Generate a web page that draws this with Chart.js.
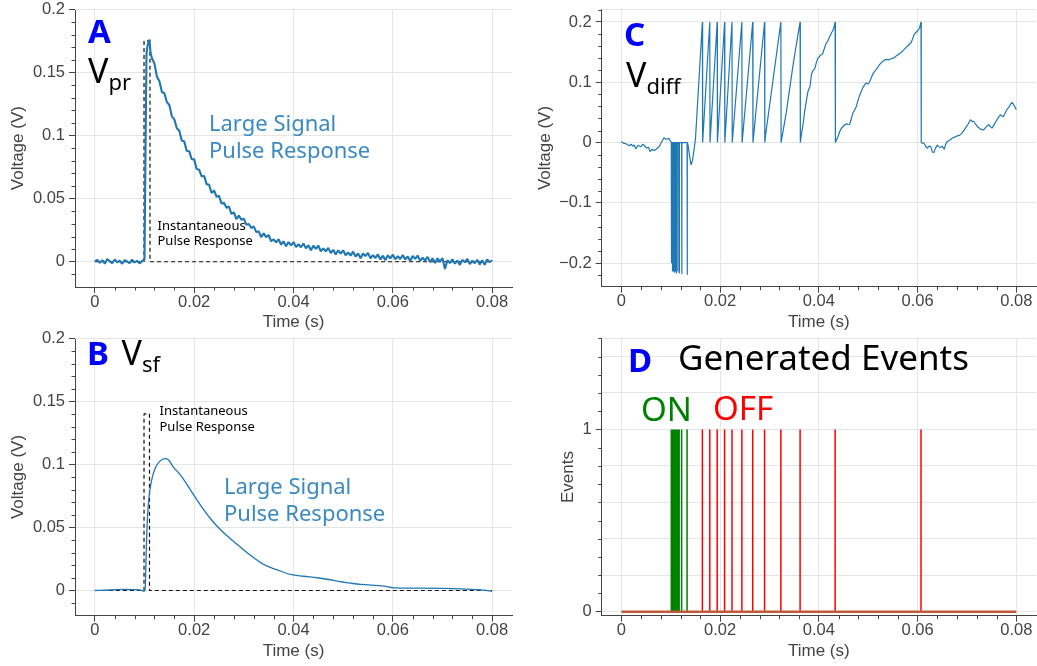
<!DOCTYPE html>
<html><head><meta charset="utf-8">
<script src="https://cdn.jsdelivr.net/npm/chart.js@4/dist/chart.umd.min.js"></script>
<style>
html,body{margin:0;padding:0;background:#fff;}
#wrap{position:relative;width:1037px;height:666px;overflow:hidden;background:#fff;}
canvas{position:absolute;left:0;top:0;}
</style></head><body><div id="wrap">
<canvas id="cA" width="1037" height="666"></canvas>
<canvas id="cB" width="1037" height="666"></canvas>
<canvas id="cC" width="1037" height="666"></canvas>
<canvas id="cD" width="1037" height="666"></canvas>
</div>
<script>
// ---------------- DATA ----------------
const xTickValues = [0, 0.02, 0.04, 0.06, 0.08];
const xTickLabels = ['0', '0.02', '0.04', '0.06', '0.08'];
const yTickValuesAB = [0, 0.05, 0.1, 0.15, 0.2];
const yTickLabelsAB = ['0', '0.05', '0.1', '0.15', '0.2'];
const yTickValuesC = [-0.2, -0.1, 0, 0.1, 0.2];
const yTickLabelsC = ['\u22120.2', '\u22120.1', '0', '0.1', '0.2'];
const yTickValuesD = [0, 0.2, 0.4, 0.6, 0.8, 1, 1.2, 1.4];
const yTickLabelsD = ['0', '', '', '', '', '1', '', ''];

// Panel A: V_pr (noisy measured trace)
const tA = [0,0.0005,0.001,0.0015,0.002,0.0025,0.003,0.0035,0.004,0.0045,
0.005,0.0055,0.006,0.0065,0.007,0.0075,0.008,0.0085,0.009,0.0095,
0.01,0.0102,0.0104,0.0106,0.0108,0.011,0.0112,0.0115,
0.012,0.0125,0.013,0.0135,0.014,0.0145,0.015,0.0155,0.016,0.0165,
0.017,0.0175,0.018,0.0185,0.019,0.0195,0.02,0.0205,0.021,0.0215,
0.022,0.0225,0.023,0.0235,0.024,0.0245,0.025,0.0255,0.026,0.0265,
0.027,0.0275,0.028,0.0285,0.029,0.0295,0.03,0.0305,0.031,0.0315,
0.032,0.0325,0.033,0.0335,0.034,0.0345,0.035,0.0355,0.036,0.0365,
0.037,0.0375,0.038,0.0385,0.039,0.0395,0.04,0.0405,0.041,0.0415,
0.042,0.0425,0.043,0.0435,0.044,0.0445,0.045,0.0455,0.046,0.0465,
0.047,0.0475,0.048,0.0485,0.049,0.0495,0.05,0.0505,0.051,0.0515,
0.052,0.0525,0.053,0.0535,0.054,0.0545,0.055,0.0555,0.056,0.0565,
0.057,0.0575,0.058,0.0585,0.059,0.0595,0.06,0.0605,0.061,0.0615,
0.062,0.0625,0.063,0.0635,0.064,0.0645,0.065,0.0655,0.066,0.0665,
0.067,0.0675,0.068,0.0685,0.069,0.0695,0.07,0.0705,0.071,0.0715,
0.072,0.0725,0.073,0.0735,0.074,0.0745,0.075,0.0755,0.076,0.0765,
0.077,0.0775,0.078,0.0785,0.079,0.0795,0.08];
const vA = [0.0003,0.0015,-0.0008,0.0012,-0.0015,0.0022,0.0004,-0.0012,0.0018,-0.0004,
0.0009,-0.0016,0.0013,0.0002,-0.0011,0.0016,-0.0006,0.0008,-0.0013,0.0005,
0.002,0.09,0.165,0.171,0.174,0.176,0.166,0.161,
0.157,0.1465,0.143,0.1345,0.1335,0.1265,0.1242,0.1152,0.1128,0.1058,
0.1038,0.096,0.0952,0.0878,0.0876,0.0812,0.0811,0.0734,0.0729,0.0677,
0.068,0.0615,0.061,0.0545,0.0565,0.0515,0.0522,0.0462,0.0468,0.0428,
0.0438,0.038,0.0392,0.0338,0.0366,0.0332,0.0341,0.0294,0.0299,0.0267,
0.028,0.0235,0.024,0.0195,0.0225,0.0195,0.0212,0.0162,0.0178,0.0153,
0.0178,0.0135,0.0162,0.0123,0.0156,0.013,0.0156,0.0116,0.0139,0.0115,
0.0145,0.0107,0.013,0.0091,0.0127,0.0103,0.0127,0.0083,0.0106,0.0083,
0.011,0.0068,0.0095,0.0057,0.0091,0.0064,0.0091,0.0051,0.0073,0.0049,
0.008,0.0042,0.0065,0.0028,0.0066,0.0045,0.007,0.0028,0.0052,0.003,
0.0058,0.0018,0.0048,0.0013,0.0051,0.0027,0.0056,0.0019,0.0044,0.0022,
0.0054,0.0018,0.0042,0.0006,0.0045,0.0023,0.0049,0.0007,0.0032,0.001,
0.0038,-0.0003,0.0027,-0.0009,0.0027,0.0001,0.0028,-0.0058,0.0012,-0.0011,
0.002,-0.0015,0.001,-0.0025,0.0015,-0.0005,0.0022,-0.0018,0.0008,-0.0012,
0.0016,-0.0022,0.0012,-0.0024,0.0019,-0.0003,0.0012];
// Panel A instantaneous pulse response (dashed)
const pulseTA = [0, 0.0099, 0.0099, 0.0111, 0.0111, 0.08];
const pulseVA = [0, 0, 0.175, 0.175, 0, 0];

// Panel B: V_sf
const tB = [0,0.002,0.004,0.006,0.008,0.0093,0.0098,0.0101,0.0102,0.01035,
0.0106,0.0109,0.0114,0.0121,0.0131,0.0141,0.0148,0.0158,0.0173,0.0193,
0.0213,0.0233,0.0253,0.0273,0.0293,0.0314,0.034,0.0367,0.0394,0.042,
0.0448,0.0474,0.0488,0.0515,0.0535,0.0582,0.0602,0.0649,0.0702,0.0736,
0.0783,0.08];
const vB = [0,0.0002,0.0006,0.0008,0.0007,0.0002,-0.0005,-0.0004,0.008,0.032,
0.058,0.074,0.087,0.0966,0.1026,0.1045,0.1037,0.0979,0.0913,0.0794,
0.0675,0.0569,0.0481,0.041,0.0344,0.0278,0.0206,0.0164,0.0127,0.0113,
0.0101,0.0085,0.0074,0.0058,0.0048,0.0034,0.0021,0.0019,0.0016,0.0012,
0.0003,-0.0006];
const pulseTB = [0, 0.0099, 0.0099, 0.011, 0.011, 0.08];
const pulseVB = [0, 0, 0.14, 0.14, 0, 0];

// Panel C: V_diff
const tC = [0,0.0004,0.0009,0.0013,0.0016,0.002,0.0023,0.0026,0.0029,0.0034,
0.0039,0.0043,0.0046,0.0051,0.0055,0.0058,0.0062,0.0065,0.0069,0.0073,
0.0077,0.008,0.0083,0.0086,0.0089,0.0092,0.0096,0.0099,
0.0101,0.01013,0.01016,0.0103,0.01033,0.01036,0.0105,0.01053,0.01056,
0.0107,0.01073,0.01076,0.0109,0.01093,0.01096,0.0111,0.01113,0.01116,
0.0114,0.01143,0.01146,0.0117,0.01173,0.01176,0.0122,0.01223,0.01226,
0.0133,0.01333,0.01336,
0.0135,0.0138,0.0141,0.0144,0.0147,0.015,
0.0164,0.01645,0.0179,0.01795,0.0194,0.01945,0.0209,0.02095,0.0224,0.02245,
0.0244,0.02445,0.0266,0.02665,0.029,0.02905,0.0292,0.0323,0.03235,0.0334,
0.0348,0.0362,0.03625,
0.0365,0.0368,0.0371,0.0375,0.0378,0.0382,0.0385,0.0387,0.0389,0.0392,
0.0395,0.0398,0.0401,0.0403,0.0406,0.0408,0.0412,0.0415,0.0418,0.0422,
0.0425,0.0429,0.0431,0.0433,0.04335,
0.0436,0.0439,0.0442,0.0446,0.0449,0.0453,0.0456,0.0459,0.0462,0.0466,
0.0469,0.0473,0.0476,0.0479,0.0482,0.0486,0.0489,0.0493,0.0496,0.0499,
0.0502,0.0506,0.0509,0.0513,0.0516,0.0521,0.0526,0.0531,0.0536,0.0541,
0.0546,0.0551,0.0556,0.0561,0.0566,0.0571,0.0576,0.0581,0.0587,0.059,
0.0593,0.0597,0.06,0.0604,0.0607,0.06075,
0.061,0.0613,0.0617,0.062,0.0623,0.0627,0.063,0.0633,0.0636,0.064,
0.0643,0.0647,0.065,0.0654,0.0657,0.066,0.0665,0.067,0.0675,0.068,
0.0685,0.069,0.0697,0.0702,0.0707,0.0711,0.0714,0.0718,0.0721,0.0728,
0.0734,0.0739,0.0744,0.0748,0.0751,0.0756,0.0761,0.0765,0.0768,0.0771,
0.0774,0.0778,0.0781,0.0786,0.0791,0.0795,0.08];
const vC = [0.0017,-0.001,-0.002,-0.004,-0.005,-0.003,-0.006,-0.004,-0.0105,-0.0045,
-0.007,-0.003,-0.0045,-0.009,-0.008,-0.015,-0.011,-0.013,-0.012,-0.009,
-0.006,-0.001,0.003,0.008,0.006,0.0055,0.007,0.003,
0,-0.2,0,0,-0.214,0,0,-0.214,0,
0,-0.216,0,0,-0.214,0,0,-0.217,0,
0,-0.214,0,0,-0.217,0,0,-0.218,0,
0,-0.219,0,
-0.004,-0.022,-0.037,-0.03,-0.012,0.006,
0.2,0,0.2,0,0.2,0,0.2,0,0.2,0,
0.2,0,0.2,0,0.2,0,0.012,0.2,0,0.05,
0.13,0.2,0,
0.0156,0.03,0.05,0.0708,0.085,0.093,0.112,0.118,0.12,0.123,
0.133,0.14,0.142,0.145,0.146,0.148,0.158,0.165,0.168,0.176,
0.181,0.187,0.192,0.2,0,
0.005,0.01,0.018,0.024,0.0267,0.03,0.031,0.03,0.0295,0.04,
0.049,0.055,0.06,0.069,0.0767,0.085,0.0907,0.096,0.099,0.097,
0.099,0.107,0.113,0.118,0.121,0.127,0.132,0.136,0.138,0.137,
0.139,0.14,0.143,0.146,0.149,0.153,0.157,0.161,0.166,0.172,
0.1795,0.183,0.185,0.19,0.2,0,
-0.001,-0.001,-0.007,-0.0094,-0.006,-0.007,-0.0155,-0.0167,-0.01,-0.004,
-0.007,-0.008,-0.006,-0.011,-0.003,0.0017,0.004,0.0072,0.009,0.011,
0.012,0.0156,0.024,0.03,0.0378,0.035,0.035,0.03,0.0267,0.022,
0.021,0.026,0.0295,0.026,0.024,0.031,0.0378,0.043,0.046,0.044,
0.043,0.05,0.0545,0.06,0.0667,0.0628,0.0545];

// Panel D: generated events
const onTimes = [0.0101, 0.0103, 0.0105, 0.0107, 0.0109, 0.0111, 0.0114, 0.0117, 0.0122, 0.0133];
const offTimes = [0.0164, 0.0179, 0.0194, 0.0209, 0.0224, 0.0244, 0.0266, 0.029, 0.0323, 0.0362, 0.0433, 0.0607];
const eventLevel = 1;
const eventSpan = [0, 0.08];

// ---------------- LAYOUT / STYLE ----------------
const W = 1037, H = 666, XH = 46;
const X_MIN = -0.004, X_MAX = 0.084;
const AXIS = '#444444', GRID = '#e5e5e5', LINE = '#1f77b4';
const TXT_BLUE = '#3a89c3';
Chart.defaults.font.family = '"Liberation Sans", Arial, sans-serif';
Chart.defaults.color = AXIS;

const xy = (ts, vs) => ts.map((t, i) => ({x: t, y: vs[i]}));
const spikes = (times, lvl) => {
  const out = [];
  times.forEach(t => { out.push({x: t, y: 0}, {x: t, y: lvl}, {x: t, y: null}); });
  return out;
};
function labelFor(vals, labels, v) {
  for (let i = 0; i < vals.length; i++) if (Math.abs(vals[i] - v) < 1e-9) return labels[i];
  return '';
}
function minorList(step, lo, hi, every) {
  const out = [];
  for (let k = Math.ceil(lo / step - 1e-9); k * step <= hi + 1e-12; k++) {
    if (k % every !== 0) out.push(k * step);
  }
  return out;
}

const decoPlugin = {
  id: 'deco',
  beforeDatasetsDraw(chart, args, opts) {
    const {ctx, chartArea: a} = chart;
    ctx.save();
    ctx.strokeStyle = GRID; ctx.lineWidth = 1;
    ctx.beginPath();
    const yy = Math.round(a.top) + 0.5;
    ctx.moveTo(a.left, yy); ctx.lineTo(a.right, yy);
    ctx.stroke();
    ctx.restore();
  },
  afterDraw(chart, args, opts) {
    const {ctx, chartArea: a, scales} = chart;
    ctx.save();
    ctx.strokeStyle = AXIS; ctx.lineWidth = 1;
    ctx.beginPath();
    (opts.xMinor || []).forEach(v => {
      const px = Math.round(scales.x.getPixelForValue(v)) + 0.5;
      ctx.moveTo(px, a.bottom); ctx.lineTo(px, a.bottom + 3.5);
    });
    (opts.yMinor || []).forEach(v => {
      const py = Math.round(scales.y.getPixelForValue(v)) + 0.5;
      ctx.moveTo(a.left, py); ctx.lineTo(a.left - 3.5, py);
    });
    ctx.stroke();
    ctx.textBaseline = 'alphabetic';
    ctx.textAlign = 'left';
    (opts.texts || []).forEach(t => {
      ctx.font = t.font; ctx.fillStyle = t.color;
      ctx.fillText(t.s, t.x, t.y);
      if (t.sub) {
        const w = ctx.measureText(t.s).width;
        ctx.font = t.sub.font;
        ctx.fillText(t.sub.s, t.x + w + (t.sub.dx || 0), t.y + t.sub.dy);
      }
    });
    ctx.restore();
  }
};

function xScale() {
  return {
    type: 'linear', min: X_MIN, max: X_MAX,
    afterBuildTicks: s => { s.ticks = xTickValues.map(v => ({value: v})); },
    afterFit: s => { s.height = XH; s.paddingLeft = s.paddingRight = s.paddingTop = s.paddingBottom = 0; },
    ticks: { callback: v => labelFor(xTickValues, xTickLabels, v), font: {size: 16.5, lineHeight: 1}, color: AXIS, padding: 1, maxRotation: 0, autoSkip: false },
    grid: { color: GRID, lineWidth: 1, tickLength: 6, tickColor: AXIS, tickWidth: 1, drawTicks: true },
    border: { color: AXIS, width: 1 },
    title: { display: true, text: 'Time (s)', font: {size: 17, lineHeight: 1.2}, color: AXIS, padding: 0 }
  };
}
function yScale(p) {
  return {
    type: 'linear', min: p.ymin, max: p.ymax,
    afterBuildTicks: s => { s.ticks = p.yVals.map(v => ({value: v})); },
    afterFit: s => { s.width = p.yw; s.paddingLeft = s.paddingRight = s.paddingTop = s.paddingBottom = 0; },
    ticks: { callback: v => labelFor(p.yVals, p.yLabels, v), font: {size: 16.5}, color: AXIS, padding: 4, autoSkip: false },
    grid: { color: GRID, lineWidth: 1, tickLength: 6, tickWidth: 1,
            tickColor: ctx => (labelFor(p.yVals, p.yLabels, ctx.tick ? ctx.tick.value : NaN) === '' ? 'rgba(0,0,0,0)' : AXIS),
            drawTicks: true },
    border: { color: AXIS, width: 1 },
    title: { display: true, text: p.yTitle, font: {size: 17, lineHeight: 1.2}, color: AXIS, padding: 0 }
  };
}
function makeChart(id, p) {
  return new Chart(document.getElementById(id), {
    type: 'line',
    data: { datasets: p.datasets },
    options: {
      responsive: false, animation: false, devicePixelRatio: 1, events: [],
      layout: { padding: { left: p.l - p.yw, top: p.t, right: W - p.r, bottom: H - p.b - XH } },
      elements: { point: { radius: 0 }, line: { tension: 0, borderJoinStyle: 'bevel' } },
      plugins: { legend: { display: false }, tooltip: { enabled: false },
                 deco: { xMinor: minorList(0.004, 0.0001, 0.0799, 5), yMinor: p.yMinor, texts: p.texts } },
      scales: { x: xScale(), y: yScale(p) }
    },
    plugins: [decoPlugin]
  });
}

const dashStyle = { borderColor: '#111', borderWidth: 1.2, borderDash: [4, 3], fill: false };
const NS = '"Noto Sans", "Open Sans", sans-serif';

makeChart('cA', {
  l: 75, t: 9.3, r: 512, b: 287, yw: 67,
  ymin: -0.02, ymax: 0.2, yVals: yTickValuesAB, yLabels: yTickLabelsAB, yTitle: 'Voltage (V)',
  yMinor: minorList(0.01, -0.0199, 0.1999, 5),
  datasets: [
    { data: xy(tA, vA), borderColor: LINE, borderWidth: 2.1, fill: false },
    Object.assign({ data: xy(pulseTA, pulseVA) }, dashStyle)
  ],
  texts: [
    { s: 'A', x: 88, y: 42.7, font: 'bold 33px ' + NS, color: '#0000ff' },
    { s: 'V', x: 88, y: 82.7, font: '34px ' + NS, color: '#000', sub: { s: 'pr', font: '22px ' + NS, dy: 7, dx: 0 } },
    { s: 'Large Signal', x: 209, y: 131, font: '22px ' + NS, color: TXT_BLUE },
    { s: 'Pulse Response', x: 209, y: 158, font: '22px ' + NS, color: TXT_BLUE },
    { s: 'Instantaneous', x: 157.5, y: 230, font: '13px ' + NS, color: '#000' },
    { s: 'Pulse Response', x: 157.5, y: 245, font: '13px ' + NS, color: '#000' }
  ]
});

makeChart('cB', {
  l: 75, t: 338.3, r: 512, b: 615.7, yw: 67,
  ymin: -0.02, ymax: 0.2, yVals: yTickValuesAB, yLabels: yTickLabelsAB, yTitle: 'Voltage (V)',
  yMinor: minorList(0.01, -0.0199, 0.1999, 5),
  datasets: [
    { data: xy(tB, vB), borderColor: LINE, borderWidth: 1.3, fill: false, cubicInterpolationMode: 'monotone' },
    Object.assign({ data: xy(pulseTB, pulseVB) }, dashStyle)
  ],
  texts: [
    { s: 'B', x: 87, y: 365, font: 'bold 33px ' + NS, color: '#0000ff' },
    { s: 'V', x: 121.5, y: 365, font: '34px ' + NS, color: '#000', sub: { s: 'sf', font: '22px ' + NS, dy: 7, dx: 0 } },
    { s: 'Instantaneous', x: 159.5, y: 415, font: '13px ' + NS, color: '#000' },
    { s: 'Pulse Response', x: 159.5, y: 431, font: '13px ' + NS, color: '#000' },
    { s: 'Large Signal', x: 224, y: 494, font: '22px ' + NS, color: TXT_BLUE },
    { s: 'Pulse Response', x: 224, y: 521, font: '22px ' + NS, color: TXT_BLUE }
  ]
});

makeChart('cC', {
  l: 601.7, t: 9.3, r: 1036, b: 286.7, yw: 66.4,
  ymin: -0.239, ymax: 0.221, yVals: yTickValuesC, yLabels: yTickLabelsC, yTitle: 'Voltage (V)',
  yMinor: minorList(0.02, -0.238, 0.22, 5),
  datasets: [
    { data: xy(tC, vC), borderColor: LINE, borderWidth: 1.2, fill: false }
  ],
  texts: [
    { s: 'C', x: 624, y: 46, font: 'bold 33px ' + NS, color: '#0000ff' },
    { s: 'V', x: 626, y: 87.3, font: '34px ' + NS, color: '#000', sub: { s: 'diff', font: '22px ' + NS, dy: 7, dx: 0 } }
  ]
});

makeChart('cD', {
  l: 601.7, t: 338.3, r: 1036, b: 615.7, yw: 43.6,
  ymin: -0.022, ymax: 1.5, yVals: yTickValuesD, yLabels: yTickLabelsD, yTitle: 'Events',
  yMinor: [0.1, 0.2, 0.3, 0.4, 0.5, 0.6, 0.7, 0.8, 0.9, 1.1, 1.2, 1.3, 1.4, 1.5],
  datasets: [
    { data: eventSpan.map(t => ({x: t, y: 0})), borderColor: '#bf5a3a', borderWidth: 2.5, fill: false },
    { data: spikes(offTimes, eventLevel), borderColor: '#ff0000', borderWidth: 1.5, fill: false, spanGaps: false },
    { data: spikes(onTimes, eventLevel), borderColor: '#008000', borderWidth: 1.5, fill: false, spanGaps: false }
  ],
  texts: [
    { s: 'D', x: 628, y: 371.7, font: 'bold 33px ' + NS, color: '#0000ff' },
    { s: 'Generated Events', x: 678, y: 370, font: '35px ' + NS, color: '#000' },
    { s: 'ON', x: 641, y: 420.7, font: '33px ' + NS, color: '#008000' },
    { s: 'OFF', x: 713, y: 419.5, font: '33px ' + NS, color: '#ff0000' }
  ]
});
</script>
</body></html>
